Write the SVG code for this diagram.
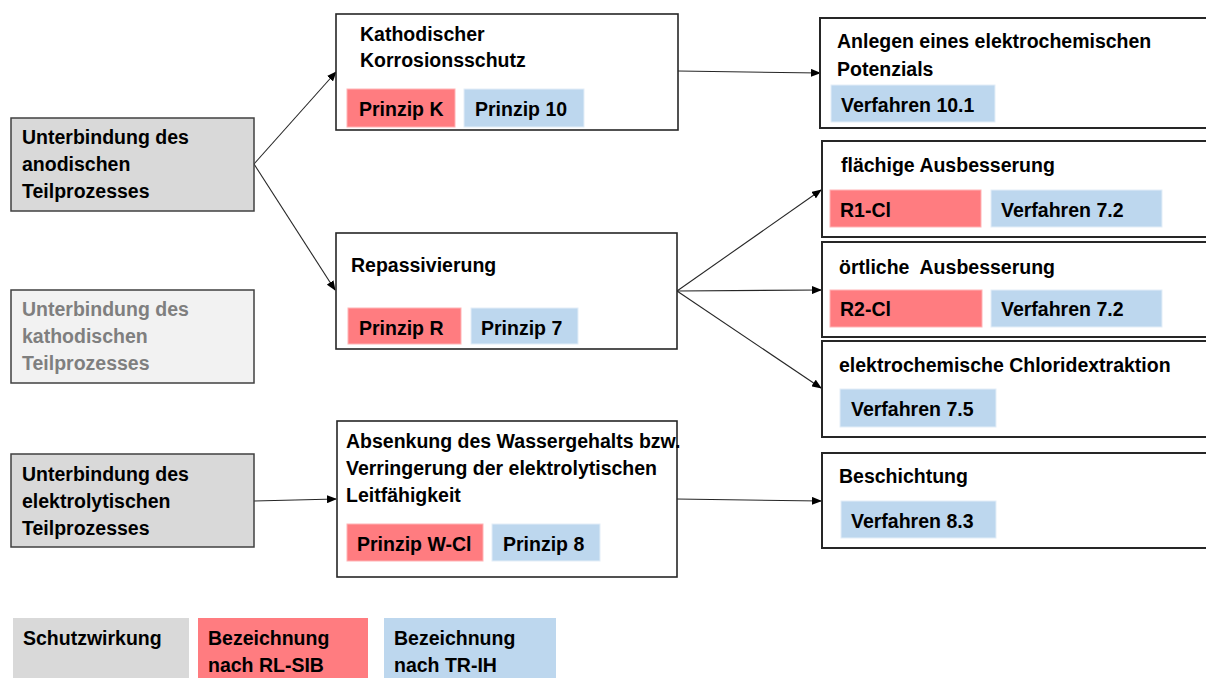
<svg xmlns="http://www.w3.org/2000/svg" width="1206" height="678" viewBox="0 0 1206 678">
<defs>
<style>
text{font-family:"Liberation Sans",Arial,sans-serif;font-weight:bold;font-size:19.5px;fill:#000}
.g{fill:#d9d9d9;stroke:#404040;stroke-width:1.5}
.lg{fill:#f2f2f2;stroke:#404040;stroke-width:1.5}
.gt{fill:#7f7f7f}
.w{fill:#fff;stroke:#262626;stroke-width:1.6}
.wr{fill:#fff;stroke:#262626;stroke-width:2}
.r{fill:#ff7c80;stroke:#ffb3b5;stroke-width:1}
.b{fill:#bdd7ee;stroke:#e3eef8;stroke-width:1}
.c{fill:none;stroke:#262626;stroke-width:1.1;marker-end:url(#ah)}
.lr{fill:#ff7c80}
.lb{fill:#bdd7ee}
.lgy{fill:#d9d9d9}
</style>
<marker id="ah" markerUnits="userSpaceOnUse" markerWidth="10" markerHeight="8" refX="9" refY="4" orient="auto">
<path d="M0,0 L10,4 L0,8 Z" fill="#000"/>
</marker>
</defs>
<rect width="1206" height="678" fill="#fff"/>
<g id="connectors">
<line class="c" x1="254" y1="164" x2="336" y2="72"/>
<line class="c" x1="254" y1="164" x2="335" y2="290"/>
<line class="c" x1="254" y1="501" x2="336" y2="499"/>
<line class="c" x1="678" y1="71" x2="820" y2="73"/>
<line class="c" x1="677" y1="291" x2="821" y2="190"/>
<line class="c" x1="677" y1="291" x2="821" y2="290"/>
<line class="c" x1="677" y1="291" x2="821" y2="388"/>
<line class="c" x1="676" y1="499" x2="821" y2="501"/>
</g>
<g id="anodisch">
<rect class="g" x="11" y="118" width="243" height="93"/>
<text x="22" y="144">Unterbindung des</text>
<text x="22" y="171">anodischen</text>
<text x="22" y="198">Teilprozesses</text>
</g>
<g id="kathodisch">
<rect class="lg" x="11" y="290" width="243" height="93"/>
<text class="gt" x="22" y="316">Unterbindung des</text>
<text class="gt" x="22" y="343">kathodischen</text>
<text class="gt" x="22" y="370">Teilprozesses</text>
</g>
<g id="elektrolytisch">
<rect class="g" x="11" y="454" width="243" height="93"/>
<text x="22" y="481">Unterbindung des</text>
<text x="22" y="508">elektrolytischen</text>
<text x="22" y="535">Teilprozesses</text>
</g>
<g id="kks">
<rect class="w" x="336" y="14" width="342" height="116"/>
<text x="360" y="41">Kathodischer</text>
<text x="360" y="67">Korrosionsschutz</text>
<rect class="r" x="347" y="89" width="108" height="38"/>
<text x="359" y="116">Prinzip K</text>
<rect class="b" x="464" y="89" width="120" height="38"/>
<text x="475" y="116">Prinzip 10</text>
</g>
<g id="repass">
<rect class="w" x="336" y="233" width="341" height="116"/>
<text x="351" y="272">Repassivierung</text>
<rect class="r" x="348" y="308" width="113" height="36"/>
<text x="359" y="335">Prinzip R</text>
<rect class="b" x="471" y="308" width="107" height="36"/>
<text x="481" y="335">Prinzip 7</text>
</g>
<g id="wasser">
<rect class="w" x="337" y="421" width="340" height="156"/>
<text x="346" y="448">Absenkung des Wassergehalts bzw.</text>
<text x="346" y="475">Verringerung der elektrolytischen</text>
<text x="346" y="502">Leitfähigkeit</text>
<rect class="r" x="347" y="524" width="136" height="37"/>
<text x="357" y="551">Prinzip W-Cl</text>
<rect class="b" x="492" y="524" width="108" height="37"/>
<text x="503" y="551">Prinzip 8</text>
</g>
<g id="potenzial">
<rect class="wr" x="820" y="18" width="400" height="110"/>
<text x="837" y="48">Anlegen eines elektrochemischen</text>
<text x="837" y="76">Potenzials</text>
<rect class="b" x="831" y="85" width="164" height="37"/>
<text x="841" y="112">Verfahren 10.1</text>
</g>
<g id="flaechig">
<rect class="wr" x="822" y="141" width="400" height="96"/>
<text x="841" y="172">flächige Ausbesserung</text>
<rect class="r" x="830" y="190" width="151" height="37"/>
<text x="840" y="217">R1-Cl</text>
<rect class="b" x="991" y="190" width="171" height="37"/>
<text x="1001" y="217">Verfahren 7.2</text>
</g>
<g id="oertlich">
<rect class="wr" x="822" y="242" width="400" height="95"/>
<text x="839" y="274" xml:space="preserve">örtliche  Ausbesserung</text>
<rect class="r" x="830" y="290" width="152" height="37"/>
<text x="840" y="316">R2-Cl</text>
<rect class="b" x="991" y="290" width="171" height="37"/>
<text x="1001" y="316">Verfahren 7.2</text>
</g>
<g id="chlorid">
<rect class="wr" x="822" y="341" width="400" height="96"/>
<text x="839" y="372">elektrochemische Chloridextraktion</text>
<rect class="b" x="840" y="389" width="156" height="38"/>
<text x="851" y="416">Verfahren 7.5</text>
</g>
<g id="beschichtung">
<rect class="wr" x="822" y="453" width="400" height="95"/>
<text x="839" y="483">Beschichtung</text>
<rect class="b" x="841" y="501" width="155" height="37"/>
<text x="851" y="528">Verfahren 8.3</text>
</g>
<g id="legende">
<rect class="lgy" x="13" y="618" width="176" height="60"/>
<text x="23" y="645">Schutzwirkung</text>
<rect class="lr" x="198" y="618" width="170" height="60"/>
<text x="208" y="645">Bezeichnung</text>
<text x="208" y="672">nach RL-SIB</text>
<rect class="lb" x="384" y="618" width="172" height="60"/>
<text x="394" y="645">Bezeichnung</text>
<text x="394" y="672">nach TR-IH</text>
</g>
</svg>
